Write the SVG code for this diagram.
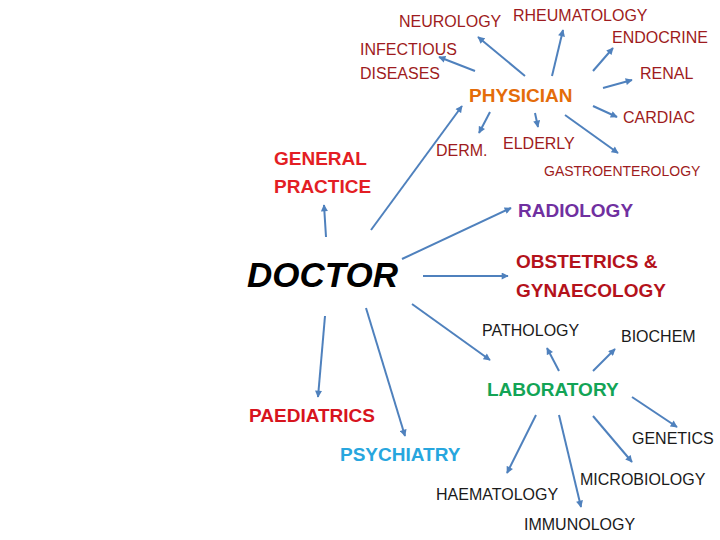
<svg xmlns="http://www.w3.org/2000/svg" width="720" height="540" viewBox="0 0 720 540">
<style>
.t{font-family:"Liberation Sans",Arial,sans-serif;font-size:16px}
.b{font-family:"Liberation Sans",Arial,sans-serif;font-size:19px;font-weight:bold}
.dr{fill:#9E1B20}
.k{fill:#1a1a1a}
.c{stroke:#4F81BD;stroke-width:2;fill:none;marker-end:url(#ah)}
</style>
<defs>
<marker id="ah" viewBox="0 0 10 10" refX="9" refY="5" markerWidth="4" markerHeight="3.5" orient="auto" markerUnits="strokeWidth">
<path d="M0,0 L10,5 L0,10 z" fill="#4F81BD"/>
</marker>
</defs>
<rect width="720" height="540" fill="#fff"/>
<g id="connectors">
<line class="c" x1="525" y1="76" x2="478" y2="37"/>
<line class="c" x1="552" y1="76" x2="563" y2="30"/>
<line class="c" x1="593" y1="71" x2="613" y2="48"/>
<line class="c" x1="475" y1="71" x2="439" y2="57"/>
<line class="c" x1="603" y1="88" x2="632" y2="80"/>
<line class="c" x1="593" y1="106" x2="617" y2="117"/>
<line class="c" x1="371" y1="230" x2="462" y2="106"/>
<line class="c" x1="490" y1="112" x2="479" y2="133"/>
<line class="c" x1="535" y1="113" x2="538" y2="127"/>
<line class="c" x1="565" y1="115" x2="618" y2="153"/>
<line class="c" x1="326" y1="237" x2="324" y2="205"/>
<line class="c" x1="402" y1="259" x2="511" y2="208"/>
<line class="c" x1="423" y1="276" x2="508" y2="276"/>
<line class="c" x1="325" y1="316" x2="318" y2="397"/>
<line class="c" x1="366" y1="308" x2="405" y2="436"/>
<line class="c" x1="412" y1="304" x2="490" y2="360"/>
<line class="c" x1="559" y1="371" x2="547" y2="348"/>
<line class="c" x1="593" y1="371" x2="615" y2="349"/>
<line class="c" x1="632" y1="397" x2="677" y2="427"/>
<line class="c" x1="593" y1="416" x2="632" y2="462"/>
<line class="c" x1="536" y1="415" x2="507" y2="473"/>
<line class="c" x1="559" y1="415" x2="581" y2="507"/>
</g>
<g id="doctor"><text x="247" y="287" font-family="Liberation Sans,Arial,sans-serif" font-size="35" font-weight="bold" font-style="italic" fill="#000">DOCTOR</text></g>
<g id="physician"><text class="b" x="469" y="102" fill="#E46C0A">PHYSICIAN</text></g>
<g id="neurology"><text class="t dr" x="399" y="27">NEUROLOGY</text></g>
<g id="rheumatology"><text class="t dr" x="513" y="21">RHEUMATOLOGY</text></g>
<g id="endocrine"><text class="t dr" x="612" y="43">ENDOCRINE</text></g>
<g id="infectious"><text class="t dr" x="360" y="55">INFECTIOUS</text><text class="t dr" x="360" y="79">DISEASES</text></g>
<g id="renal"><text class="t dr" x="640" y="79">RENAL</text></g>
<g id="cardiac"><text class="t dr" x="623" y="123">CARDIAC</text></g>
<g id="derm"><text class="t dr" x="436" y="156">DERM.</text></g>
<g id="elderly"><text class="t dr" x="503" y="149">ELDERLY</text></g>
<g id="gastro"><text class="t dr" x="544" y="176" style="font-size:14px">GASTROENTEROLOGY</text></g>
<g id="general-practice"><text class="b" x="274" y="165" fill="#E31E24">GENERAL</text><text class="b" x="274" y="193" fill="#E31E24">PRACTICE</text></g>
<g id="radiology"><text class="b" x="518" y="217" fill="#7030A0">RADIOLOGY</text></g>
<g id="obstetrics"><text class="b" x="516" y="268" fill="#B4121B">OBSTETRICS &amp;</text><text class="b" x="516" y="297" fill="#B4121B">GYNAECOLOGY</text></g>
<g id="paediatrics"><text class="b" x="249" y="422" fill="#D7141E">PAEDIATRICS</text></g>
<g id="psychiatry"><text class="b" x="340" y="461" fill="#27A6DE">PSYCHIATRY</text></g>
<g id="laboratory"><text class="b" x="487" y="396" fill="#13A456">LABORATORY</text></g>
<g id="pathology"><text class="t k" x="482" y="336">PATHOLOGY</text></g>
<g id="biochem"><text class="t k" x="621" y="342">BIOCHEM</text></g>
<g id="genetics"><text class="t k" x="632" y="444">GENETICS</text></g>
<g id="microbiology"><text class="t k" x="580" y="485">MICROBIOLOGY</text></g>
<g id="haematology"><text class="t k" x="436" y="500">HAEMATOLOGY</text></g>
<g id="immunology"><text class="t k" x="524" y="530">IMMUNOLOGY</text></g>
</svg>
